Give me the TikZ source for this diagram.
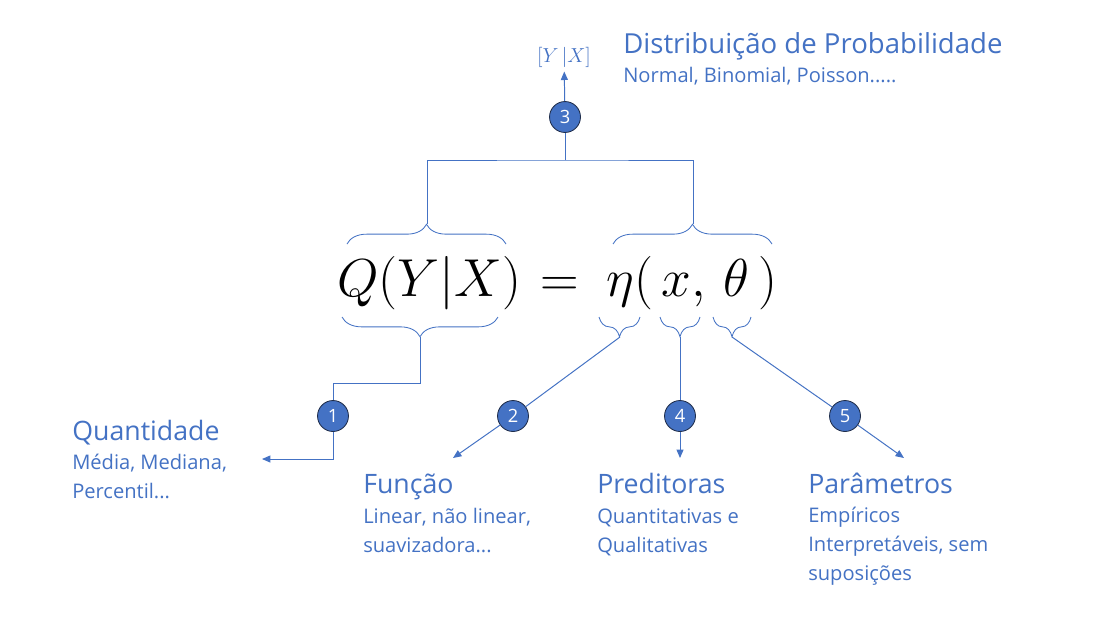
\documentclass[tikz,border=0pt]{standalone}
\usepackage{fontspec}
\setmainfont{Open Sans}
\usepackage{tikz}
\usetikzlibrary{arrows.meta, positioning, calc, decorations.pathreplacing}
\definecolor{officeBlue}{HTML}{4472C4}
\definecolor{dotEdge}{HTML}{1F2D4A}
\newcommand{\bigmath}[1]{\scalebox{1.527}{$#1$}}
\tikzset{
  lineB/.style={officeBlue, line width=0.7pt},
  arrowB/.style={-{Triangle[length=6pt, width=5pt]}, officeBlue, line width=0.7pt},
  braceT/.style={officeBlue, line width=0.6pt, decorate,
                 decoration={brace, amplitude=14pt}},
  braceB/.style={officeBlue, line width=0.6pt, decorate,
                 decoration={brace, mirror, amplitude=14pt}},
  numDot/.style={circle, draw=dotEdge, fill=officeBlue, text=white, line width=0.6pt,
                 minimum size=22pt, inner sep=0pt, font=\fontsize{13}{13}\selectfont},
  headTxt/.style={anchor=base west, text=officeBlue, inner sep=0pt,
                  font=\fontsize{19}{21}\selectfont},
  subTxt/.style={anchor=base west, text=officeBlue, inner sep=0pt, align=left,
                 font=\fontsize{14.3}{20.6}\selectfont},
  mathBig/.style={anchor=base west, inner sep=0pt, font=\fontsize{24.88}{26}\selectfont},
}

\begin{document}
\begin{tikzpicture}[x=0.025cm, y=-0.025cm]
  \path[fill=white, use as bounding box] (0,0) rectangle (1108,639);

  % formula
  \node[mathBig] (lhs) at (337,296) {\bigmath{Q(Y|X)}};
  \node[mathBig] (eq) at (540,296) {\bigmath{=}};
  \node[mathBig] (rhs) at (606,296) {\bigmath{\eta(\,x,\,\theta\,)}};

  % braces
  \draw[braceT] (347,244) -- (506,244);
  \draw[braceT] (613,244) -- (772,244);
  \draw[braceB] (342,317) -- (498,317);
  \draw[braceB] (599,317) -- (640,317);
  \draw[braceB] (660,317) -- (700,317);
  \draw[braceB] (713,317) -- (751,317);
  \coordinate (tQ) at (427,224);
  \coordinate (tE) at (693,224);
  \coordinate (bQ) at (420,337);
  \coordinate (bEta) at (620,337);
  \coordinate (bX) at (680,337);
  \coordinate (bTh) at (732,337);

  % numbered dots
  \node[numDot] (n1) at (333,416) {1};
  \node[numDot] (n2) at (513,416) {2};
  \node[numDot] (n3) at (565,117) {3};
  \node[numDot] (n4) at (680,416) {4};
  \node[numDot] (n5) at (845,416) {5};

  % texts (multi-line: base is the last line)
  \node[anchor=base, text=officeBlue, inner sep=3pt, font=\fontsize{14.5}{14.5}\selectfont]
    (yx) at (564,62) {$[Y\,|X]$};
  \node[headTxt, font=\fontsize{19.6}{22}\selectfont] (dist) at (623,53) {Distribuição de Probabilidade};
  \node[subTxt] (distSub) at (623,82) {Normal, Binomial, Poisson.....};
  \node[headTxt] (quant) at (72,440) {Quantidade};
  \node[subTxt] (quantSub) at (72,498) {Média, Mediana,\\Percentil...};
  \node[headTxt] (func) at (363,493) {Função};
  \node[subTxt] (funcSub) at (363,552) {Linear, não linear,\\suavizadora...};
  \node[headTxt] (pred) at (597,493) {Preditoras};
  \node[subTxt] (predSub) at (597,552) {Quantitativas e\\Qualitativas};
  \node[headTxt] (param) at (808,493) {Parâmetros};
  \node[subTxt] (paramSub) at (808,580) {Empíricos\\Interpretáveis, sem\\suposições};

  % connectors
  \coordinate (joinT) at (565,160);
  \coordinate (bend1) at (333,383);
  \coordinate (endQ) at (262,459);
  \coordinate (endF) at (453,458);
  \coordinate (endP) at (680,458);
  \coordinate (endT) at (904,458);
  \draw[lineB] (tQ) |- (joinT) -| (tE);
  \draw[lineB] (joinT) -- (n3);
  \draw[arrowB] (n3) -- (yx);
  \draw[lineB] (bQ) |- (bend1) -- (n1);
  \draw[arrowB] (n1) |- (endQ);
  \draw[lineB] (bEta) -- (n2);
  \draw[arrowB] (n2) -- (endF);
  \draw[lineB] (bX) -- (n4);
  \draw[arrowB] (n4) -- (endP);
  \draw[lineB] (bTh) -- (n5);
  \draw[arrowB] (n5) -- (endT);
\end{tikzpicture}
\end{document}
